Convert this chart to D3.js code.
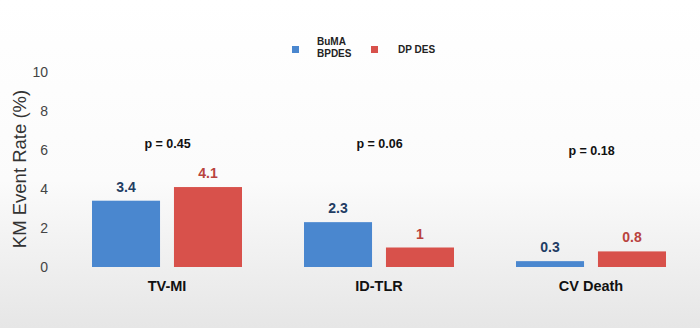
<!DOCTYPE html>
<html><head><meta charset="utf-8">
<script src="https://cdn.jsdelivr.net/npm/d3@7"></script>
<style>html,body{margin:0;padding:0;}svg{display:block;}</style>
</head><body>
<svg id="c" width="700" height="328"></svg>
<script>
const categories = ["TV-MI", "ID-TLR", "CV Death"];
const seriesNames = ["BuMA BPDES", "DP DES"];
const bumaValues = [3.4, 2.3, 0.3];
const dpValues = [4.1, 1, 0.8];
const valueLabels = [["3.4", "4.1"], ["2.3", "1"], ["0.3", "0.8"]];
const pValues = ["p = 0.45", "p = 0.06", "p = 0.18"];
const pHeights = [6.1, 6.1, 5.75];
const yTicks = [0, 2, 4, 6, 8, 10];

const svg = d3.select("#c");
const W = 700, H = 328;
const defs = svg.append("defs");
const g = defs.append("linearGradient").attr("id", "bg").attr("x1", 0).attr("y1", 0).attr("x2", 0).attr("y2", 1);
g.append("stop").attr("offset", "0%").attr("stop-color", "#ffffff");
g.append("stop").attr("offset", "55%").attr("stop-color", "#fbfbfb");
g.append("stop").attr("offset", "100%").attr("stop-color", "#e6e6e6");
svg.append("rect").attr("width", W).attr("height", H).attr("fill", "url(#bg)");

const colors = ["#4a87cf", "#d8514b"];
const labelColors = ["#1f3d63", "#b9433e"];

const y = d3.scaleLinear().domain([0, 10]).range([267, 72]);
const x0 = d3.scaleBand().domain(categories).range([61, 697]).paddingInner(0).paddingOuter(0);
const x1 = d3.scaleBand().domain(seriesNames).range([0, 150]).paddingInner(0.17).paddingOuter(0);
const groupOffset = (x0.bandwidth() - 150) / 2;

// Y axis
const yAxis = d3.axisLeft(y).tickValues(yTicks).tickSize(0).tickPadding(0);
const ya = svg.append("g").attr("transform", "translate(48,0)").call(yAxis);
ya.select(".domain").remove();
ya.selectAll("text").attr("font-family", "Liberation Sans, Arial, sans-serif").attr("font-size", 14).attr("fill", "#444");

svg.append("text").attr("transform", "translate(26,169) rotate(-90)")
  .attr("text-anchor", "middle").attr("font-family", "Liberation Sans, Arial, sans-serif")
  .attr("font-size", 18.5).attr("fill", "#333").text("KM Event Rate (%)");

// bars
const data = categories.map((c, i) => ({cat: c, vals: [bumaValues[i], dpValues[i]], labels: valueLabels[i]}));
const groups = svg.append("g").selectAll("g").data(data).join("g")
  .attr("transform", d => `translate(${x0(d.cat) + groupOffset},0)`);
groups.selectAll("rect").data(d => d.vals.map((v, j) => ({v, s: seriesNames[j], j})))
  .join("rect")
  .attr("x", d => x1(d.s)).attr("width", x1.bandwidth())
  .attr("y", d => y(d.v)).attr("height", d => y(0) - y(d.v))
  .attr("fill", d => colors[d.j]);
groups.selectAll("text.val").data(d => d.vals.map((v, j) => ({v, s: seriesNames[j], j, l: d.labels[j]})))
  .join("text").attr("class", "val")
  .attr("x", d => x1(d.s) + x1.bandwidth() / 2).attr("y", d => y(d.v) - 9)
  .attr("text-anchor", "middle").attr("font-family", "Liberation Sans, Arial, sans-serif")
  .attr("font-weight", "bold").attr("font-size", 14).attr("fill", d => labelColors[d.j])
  .text(d => d.l);

// category labels
const xAxis = d3.axisBottom(x0).tickSize(0).tickPadding(0);
const xa = svg.append("g").attr("transform", "translate(0,281)").call(xAxis);
xa.select(".domain").remove();
xa.selectAll("text").attr("font-family", "Liberation Sans, Arial, sans-serif").attr("font-weight", "bold")
  .attr("font-size", 14.5).attr("fill", "#111");

// p-values
svg.append("g").selectAll("text").data(categories).join("text")
  .attr("x", (c) => x0(c) + x0.bandwidth() / 2 + 0.5)
  .attr("y", (c, i) => y(pHeights[i]))
  .attr("text-anchor", "middle").attr("font-family", "Liberation Sans, Arial, sans-serif")
  .attr("font-weight", "bold").attr("font-size", 12.5).attr("fill", "#111")
  .text((c, i) => pValues[i]);

// legend
const leg = svg.append("g").attr("font-family", "Liberation Sans, Arial, sans-serif").attr("font-weight", "bold").attr("font-size", 10).attr("fill", "#222");
leg.append("rect").attr("x", 292).attr("y", 46).attr("width", 7).attr("height", 7).attr("fill", colors[0]);
leg.append("text").attr("x", 317).attr("y", 45).text("BuMA");
leg.append("text").attr("x", 317).attr("y", 57).text("BPDES");
leg.append("rect").attr("x", 371).attr("y", 46).attr("width", 7).attr("height", 7).attr("fill", colors[1]);
leg.append("text").attr("x", 398).attr("y", 53).text("DP DES");
</script>
</body></html>
